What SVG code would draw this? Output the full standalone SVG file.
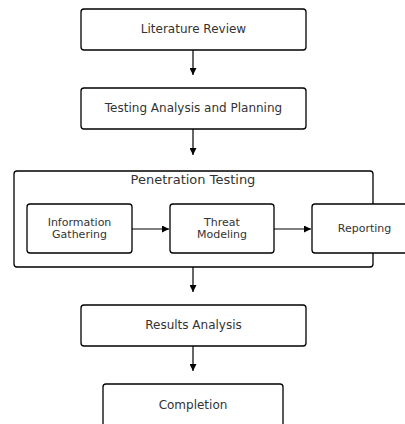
<svg xmlns="http://www.w3.org/2000/svg" width="405" height="424" viewBox="0 0 405 424">
<style>
.box{fill:#fff;stroke:#000;stroke-width:1.3}
.t{font-family:"DejaVu Sans",sans-serif;font-size:12px;fill:#333;text-anchor:middle}
.s{font-family:"DejaVu Sans",sans-serif;font-size:11px;fill:#333;text-anchor:middle}
.tt{font-family:"DejaVu Sans",sans-serif;font-size:13px;fill:#333;text-anchor:middle}
.e{stroke:#000;stroke-width:1.2;fill:none}
</style>
<defs><marker id="a" viewBox="0 0 10 10" refX="10" refY="5" markerWidth="7" markerHeight="7" markerUnits="userSpaceOnUse" orient="auto"><path d="M0,0L10,5L0,10z" fill="#000"/></marker></defs>
<rect width="405" height="424" fill="#fff"/>
<g id="cluster"><rect class="box" x="14" y="171" width="359" height="96" rx="3"/><text class="tt" x="193" y="184">Penetration Testing</text></g>
<g id="n1"><rect class="box" x="81" y="9" width="225" height="41" rx="3"/><text class="t" x="193.5" y="33">Literature Review</text></g>
<g id="n2"><rect class="box" x="81" y="88" width="225" height="41" rx="3"/><text class="t" x="193.5" y="112">Testing Analysis and Planning</text></g>
<g id="n3"><rect class="box" x="27" y="204" width="105" height="49" rx="3"/><text class="s" x="79.5" y="226">Information</text><text class="s" x="79.5" y="238">Gathering</text></g>
<g id="n4"><rect class="box" x="170" y="204" width="104" height="49" rx="3"/><text class="s" x="222" y="226">Threat</text><text class="s" x="222" y="238">Modeling</text></g>
<g id="n5"><rect class="box" x="312" y="204" width="100" height="49" rx="3"/><text class="s" x="364.5" y="232">Reporting</text></g>
<g id="n6"><rect class="box" x="81" y="305" width="225" height="41" rx="3"/><text class="t" x="193.5" y="329">Results Analysis</text></g>
<g id="n7"><rect class="box" x="103" y="384" width="180" height="46" rx="3"/><text class="t" x="193" y="409">Completion</text></g>
<g id="edges">
<path class="e" marker-end="url(#a)" d="M193,50V75"/>
<path class="e" marker-end="url(#a)" d="M193,129V155"/>
<path class="e" marker-end="url(#a)" d="M193,267V292"/>
<path class="e" marker-end="url(#a)" d="M193,346V371"/>
<path class="e" marker-end="url(#a)" d="M132,229H169"/>
<path class="e" marker-end="url(#a)" d="M274,229H311"/>
</g>
</svg>
